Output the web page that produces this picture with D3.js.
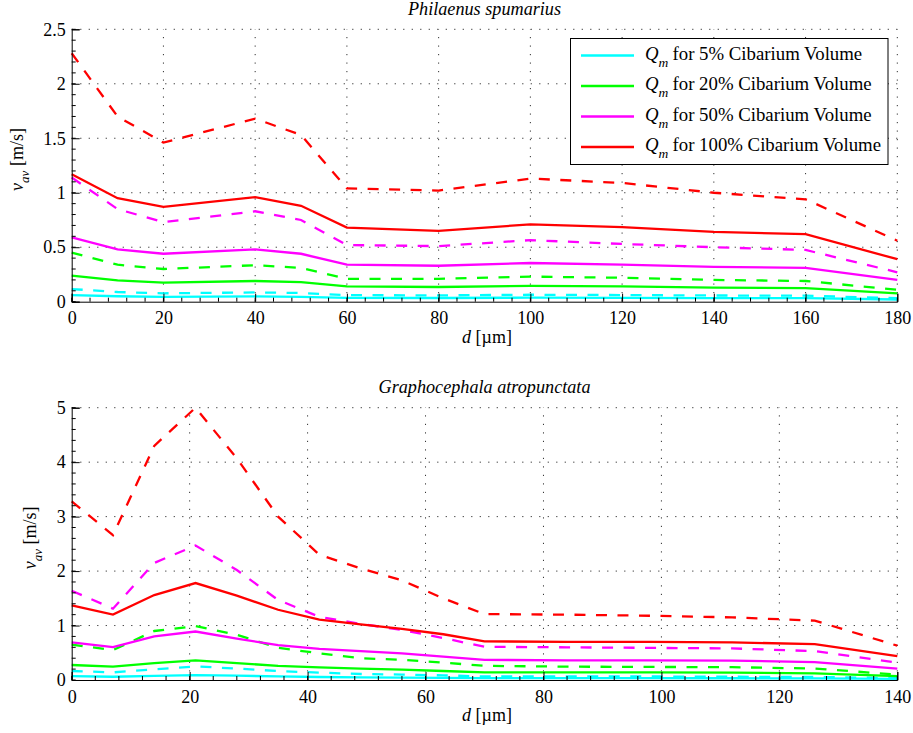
<!DOCTYPE html>
<html>
<head>
<meta charset="utf-8">
<script src="https://cdn.jsdelivr.net/npm/d3@7"></script>
<style>
    body { margin: 0; background: #fff; }
    svg { display: block; }
    svg text { font-family: 'Liberation Serif', Tinos, 'Times New Roman', Times, 'DejaVu Serif', serif !important; fill: #000; }
    .grid line { stroke: #000; stroke-width: 1; stroke-dasharray: 1.2 7.3; opacity: 0.8; }
</style>
</head>
<body>
<svg id="chart" width="913" height="733" font-family="Liberation Serif, serif"></svg>
<script>
'use strict';

// --- Philaenus spumarius (top panel) ---
var topD = [0, 10, 20, 40, 50, 60, 80, 100, 120, 140, 160, 180];
var topCyanSolid  = [0.06, 0.05, 0.045, 0.048, 0.045, 0.035, 0.034, 0.037, 0.035, 0.033, 0.032, 0.02];
var topCyanDash   = [0.116, 0.089, 0.077, 0.085, 0.08, 0.06, 0.058, 0.064, 0.061, 0.057, 0.055, 0.032];
var topGreenSolid = [0.24, 0.195, 0.175, 0.19, 0.18, 0.14, 0.135, 0.145, 0.14, 0.13, 0.125, 0.077];
var topGreenDash  = [0.45, 0.34, 0.30, 0.335, 0.31, 0.21, 0.21, 0.23, 0.22, 0.20, 0.19, 0.11];
var topMagSolid   = [0.59, 0.48, 0.44, 0.48, 0.44, 0.34, 0.33, 0.355, 0.34, 0.32, 0.31, 0.20];
var topMagDash    = [1.14, 0.85, 0.73, 0.83, 0.75, 0.52, 0.51, 0.565, 0.53, 0.50, 0.475, 0.27];
var topRedSolid   = [1.17, 0.95, 0.87, 0.96, 0.88, 0.68, 0.65, 0.71, 0.685, 0.64, 0.62, 0.39];
var topRedDash    = [2.28, 1.70, 1.46, 1.68, 1.53, 1.04, 1.02, 1.13, 1.09, 1.0, 0.94, 0.56];
var topXTicks = [0, 20, 40, 60, 80, 100, 120, 140, 160, 180];
var topYTicks = [0, 0.5, 1, 1.5, 2, 2.5];

// --- Graphocephala atropunctata (bottom panel) ---
var botD = [0, 7, 14, 21, 28, 35, 42, 49, 56, 63, 70, 84, 98, 112, 126, 140];
var botCyanSolid  = [0.07, 0.06, 0.075, 0.09, 0.08, 0.065, 0.055, 0.048, 0.043, 0.038, 0.033, 0.033, 0.033, 0.032, 0.03, 0.02];
var botCyanDash   = [0.165, 0.14, 0.195, 0.25, 0.21, 0.165, 0.135, 0.11, 0.10, 0.085, 0.065, 0.065, 0.065, 0.06, 0.055, 0.035];
var botGreenSolid = [0.275, 0.245, 0.31, 0.36, 0.31, 0.26, 0.23, 0.21, 0.19, 0.165, 0.14, 0.14, 0.14, 0.135, 0.12, 0.07];
var botGreenDash  = [0.65, 0.55, 0.90, 0.99, 0.83, 0.59, 0.49, 0.40, 0.37, 0.32, 0.26, 0.245, 0.24, 0.235, 0.21, 0.10];
var botMagSolid   = [0.69, 0.605, 0.80, 0.89, 0.76, 0.64, 0.57, 0.53, 0.49, 0.43, 0.37, 0.36, 0.36, 0.355, 0.33, 0.21];
var botMagDash    = [1.64, 1.31, 2.15, 2.47, 2.02, 1.47, 1.16, 1.03, 0.92, 0.77, 0.61, 0.60, 0.59, 0.58, 0.53, 0.32];
var botRedSolid   = [1.37, 1.20, 1.56, 1.78, 1.55, 1.29, 1.11, 1.02, 0.94, 0.84, 0.71, 0.70, 0.70, 0.69, 0.66, 0.44];
var botRedDash    = [3.28, 2.66, 4.3, 5.0, 4.07, 3.0, 2.3, 2.05, 1.83, 1.5, 1.21, 1.2, 1.18, 1.15, 1.09, 0.63];
var botXTicks = [0, 20, 40, 60, 80, 100, 120, 140];
var botYTicks = [0, 1, 2, 3, 4, 5];

var legendLabels = ['for 5% Cibarium Volume', 'for 20% Cibarium Volume',
    'for 50% Cibarium Volume', 'for 100% Cibarium Volume'];
var seriesColors = ['#00ffff', '#00ff00', '#ff00ff', '#ff0000'];

var svg = d3.select('#chart');
var left = 71.7, right = 897.3;

function drawPanel(opts) {
    var x = d3.scaleLinear().domain(opts.xDomain).range([left, right]),
        y = d3.scaleLinear().domain(opts.yDomain).range([opts.bottom, opts.top]),
        g = svg.append('g');

    // dotted grid
    var grid = g.append('g').attr('class', 'grid');
    grid.selectAll('.gx').data(opts.xTicks.slice(1)).enter()
        .append('line')
        .attr('x1', d => x(d)).attr('x2', d => x(d))
        .attr('y1', opts.bottom).attr('y2', opts.top);
    grid.selectAll('.gy').data(opts.yTicks.slice(1)).enter()
        .append('line')
        .attr('x1', left).attr('x2', right)
        .attr('y1', d => y(d)).attr('y2', d => y(d));

    // series: solid then dashed for each colour
    var line = d3.line().x((d, i) => x(opts.d[i])).y(d => y(d));
    opts.series.forEach((pair, i) => {
        g.append('path').datum(pair[0])
            .attr('d', line)
            .attr('fill', 'none')
            .attr('stroke', seriesColors[i])
            .attr('stroke-width', 2.3);
        g.append('path').datum(pair[1])
            .attr('d', line)
            .attr('fill', 'none')
            .attr('stroke', seriesColors[i])
            .attr('stroke-width', 2.3)
            .attr('stroke-dasharray', '11,10.5');
    });

    // axes (ticks inward, box off)
    var xAxis = d3.axisBottom(x).tickValues(opts.xTicks).tickSize(-8).tickPadding(10)
        .tickFormat(d3.format('d'));
    var yAxis = d3.axisLeft(y).tickValues(opts.yTicks).tickSize(-8).tickPadding(6)
        .tickFormat(d => String(d));

    var gx = g.append('g').attr('transform', `translate(0,${opts.bottom})`).call(xAxis);
    var gy = g.append('g').attr('transform', `translate(${left},0)`).call(yAxis);

    // minor ticks
    gx.selectAll('.minor').data(d3.range(opts.xDomain[0], opts.xDomain[1] + 0.01, opts.xMinor)).enter()
        .append('line')
        .attr('x1', d => x(d)).attr('x2', d => x(d))
        .attr('y1', 0).attr('y2', -4)
        .attr('stroke', '#000');
    gy.selectAll('.minor').data(d3.range(opts.yDomain[0], opts.yDomain[1] + 0.001, opts.yMinor)).enter()
        .append('line')
        .attr('y1', d => y(d)).attr('y2', d => y(d))
        .attr('x1', 0).attr('x2', 4)
        .attr('stroke', '#000');

    [gx, gy].forEach(a => {
        a.attr('font-family', null);
        a.select('.domain').attr('stroke', '#000').attr('stroke-width', 1);
        a.selectAll('text').style('font-size', '18px');
    });
    gx.selectAll('.tick text').attr('dy', '0.71em');

    // panel title
    g.append('text')
        .attr('x', (left + right) / 2)
        .attr('y', opts.titleY)
        .attr('text-anchor', 'middle')
        .style('font-size', '18.2px')
        .style('font-style', 'italic')
        .text(opts.title);

    // x label
    var xl = g.append('text')
        .attr('x', 487)
        .attr('y', opts.xLabelY)
        .attr('text-anchor', 'middle')
        .style('font-size', '18px');
    xl.append('tspan').style('font-style', 'italic').text('d');
    xl.append('tspan').text(' [\u00b5m]');

    // y label
    var yl = g.append('text')
        .attr('transform', `translate(${opts.yLabelX},${(opts.top + opts.bottom) / 2 - 6}) rotate(-90)`)
        .attr('text-anchor', 'middle')
        .style('font-size', '18px');
    yl.append('tspan').style('font-style', 'italic').text('v');
    yl.append('tspan').style('font-style', 'italic').style('font-size', '13px')
        .attr('dy', 6).text('av');
    yl.append('tspan').attr('dy', -6).text(' [m/s]');
}

drawPanel({
    title: 'Philaenus spumarius', titleY: 15,
    d: topD, xDomain: [0, 180], yDomain: [0, 2.5],
    xTicks: topXTicks, yTicks: topYTicks, xMinor: 4, yMinor: 0.1,
    top: 29.3, bottom: 301.7, xLabelY: 343, yLabelX: 23,
    series: [[topCyanSolid, topCyanDash], [topGreenSolid, topGreenDash],
             [topMagSolid, topMagDash], [topRedSolid, topRedDash]]
});

drawPanel({
    title: 'Graphocephala atropunctata', titleY: 393,
    d: botD, xDomain: [0, 140], yDomain: [0, 5],
    xTicks: botXTicks, yTicks: botYTicks, xMinor: 4, yMinor: 0.2,
    top: 407.7, bottom: 680, xLabelY: 721, yLabelX: 36,
    series: [[botCyanSolid, botCyanDash], [botGreenSolid, botGreenDash],
             [botMagSolid, botMagDash], [botRedSolid, botRedDash]]
});

// legend (top panel)
var legend = svg.append('g');
legend.append('rect')
    .attr('x', 570.5).attr('y', 38.5)
    .attr('width', 317.5).attr('height', 126)
    .attr('fill', '#fff').attr('stroke', '#000').attr('stroke-width', 1);

var rows = legend.selectAll('.row').data(legendLabels).enter()
    .append('g')
    .attr('transform', (d, i) => `translate(0,${55.5 + i * 30.5})`);
rows.append('line')
    .attr('x1', 581).attr('x2', 634)
    .attr('stroke', (d, i) => seriesColors[i])
    .attr('stroke-width', 2.5);
var q = rows.append('text')
    .attr('x', 645).attr('y', 4)
    .style('font-size', '18.8px');
q.append('tspan').style('font-style', 'italic').text('Q');
q.append('tspan').style('font-style', 'italic').style('font-size', '13.5px')
    .attr('dy', 7).text('m');
rows.append('text')
    .attr('x', 672.5).attr('y', 4)
    .style('font-size', '18.8px')
    .text(d => d);
</script>
</body>
</html>
